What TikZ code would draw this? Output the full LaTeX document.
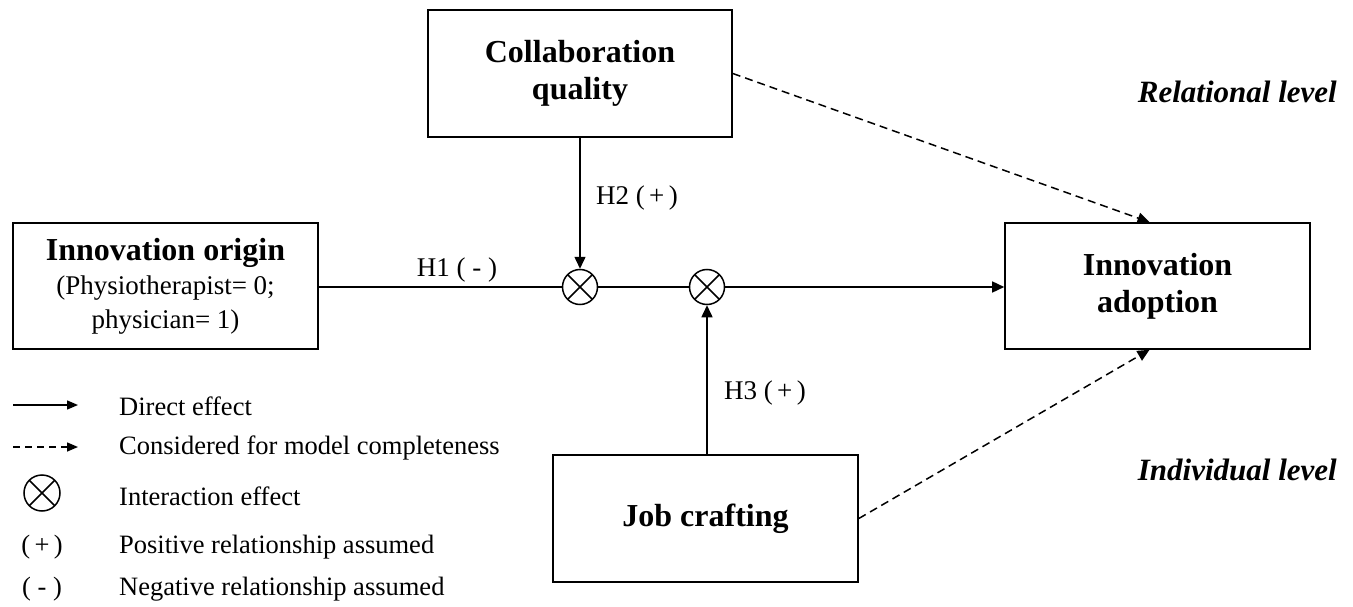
\documentclass[tikz,border=0pt]{standalone}
\usepackage{fontspec}
\setmainfont{Liberation Serif}
\usetikzlibrary{arrows.meta,calc}

\begin{document}
\begin{tikzpicture}[x=1pt,y=-1pt,
  box/.style={draw,line width=1.6pt,minimum width=305pt,minimum height=126pt,
    inner sep=0pt,align=center,font=\fontsize{32}{37}\selectfont\bfseries},
  mult/.style={draw,circle,line width=1.5pt,minimum size=35pt,inner sep=0pt,
    path picture={\draw[line width=1.5pt]
      (path picture bounding box.north west) -- (path picture bounding box.south east)
      (path picture bounding box.north east) -- (path picture bounding box.south west);}},
  link/.style={line width=1.5pt},
  arr/.style={link,-{Triangle[length=12pt,width=11pt]}},
  dashlink/.style={arr,dash pattern=on 8pt off 5pt},
  lbl/.style={font=\fontsize{26.5}{32}\selectfont,inner sep=0pt},
  level/.style={font=\fontsize{31}{35}\selectfont\bfseries\itshape,anchor=east,inner sep=0pt}
]
\useasboundingbox (0,0) rectangle (1353,607);

% constructs
\node[box] (orig) at (165.5,286)
  {Innovation origin\\[-3pt]{\fontsize{27}{33}\selectfont\mdseries (Physiotherapist= 0;}\\[-3pt]
   {\fontsize{27}{33}\selectfont\mdseries physician= 1)}};
\node[box,minimum width=304pt,minimum height=127pt] (collab) at (580,73.5)
  {Collaboration\\quality};
\node[box] (adopt) at (1157.5,286) {Innovation\\adoption};
\node[box,minimum height=127pt] (job) at (705.5,518.5) {Job crafting};

% interaction points
\node[mult] (c1) at (580,287) {};
\node[mult] (c2) at (707,287) {};

% paths
\draw[link] (orig.east |- c1) -- (c1);
\draw[link] (c1) -- (c2);
\draw[arr] (c2) -- (c2 -| adopt.west);
\draw[arr] (collab) -- (c1);
\draw[arr] (c2 |- job.north) -- (c2);
\draw[dashlink] (collab.east) -- ([xshift=-8pt]adopt.north);
\draw[dashlink] (job.east) -- ([xshift=-8pt]adopt.south);

% hypothesis labels
\node[lbl,font=\fontsize{27}{32}\selectfont] (h1) at (457,270) {H1 ( - )};
\node[lbl,font=\fontsize{27}{32}\selectfont] (h2) at (637,198) {H2 (\,+\,)};
\node[lbl,font=\fontsize{27}{32}\selectfont] (h3) at (765,393) {H3 (\,+\,)};

% levels
\node[level] (rel) at (1337,92) {Relational level};
\node[level] (ind) at (1337,470) {Individual level};

% legend
\coordinate (la1) at (13,405);
\coordinate (lb1) at (78,405);
\draw[link,-{Triangle[length=11pt,width=9pt]}] (la1) -- (lb1);
\coordinate (la2) at (13,447);
\coordinate (lb2) at (78,447);
\draw[link,dash pattern=on 7pt off 5pt,-{Triangle[length=11pt,width=9pt]}] (la2) -- (lb2);
\node[mult,minimum size=36pt] (lx) at (42,493) {};
\node[lbl] (lp) at (42,547) {(\,+\,)};
\node[lbl] (lm) at (42,589) {( - )};

\node[lbl,anchor=west] (t1) at (119,406) {Direct effect};
\node[lbl,anchor=west] (t2) at (119,448) {Considered for model completeness};
\node[lbl,anchor=west] (t3) at (119,496) {Interaction effect};
\node[lbl,anchor=west] (t4) at (119,547) {Positive relationship assumed};
\node[lbl,anchor=west] (t5) at (119,589) {Negative relationship assumed};
\end{tikzpicture}
\end{document}
